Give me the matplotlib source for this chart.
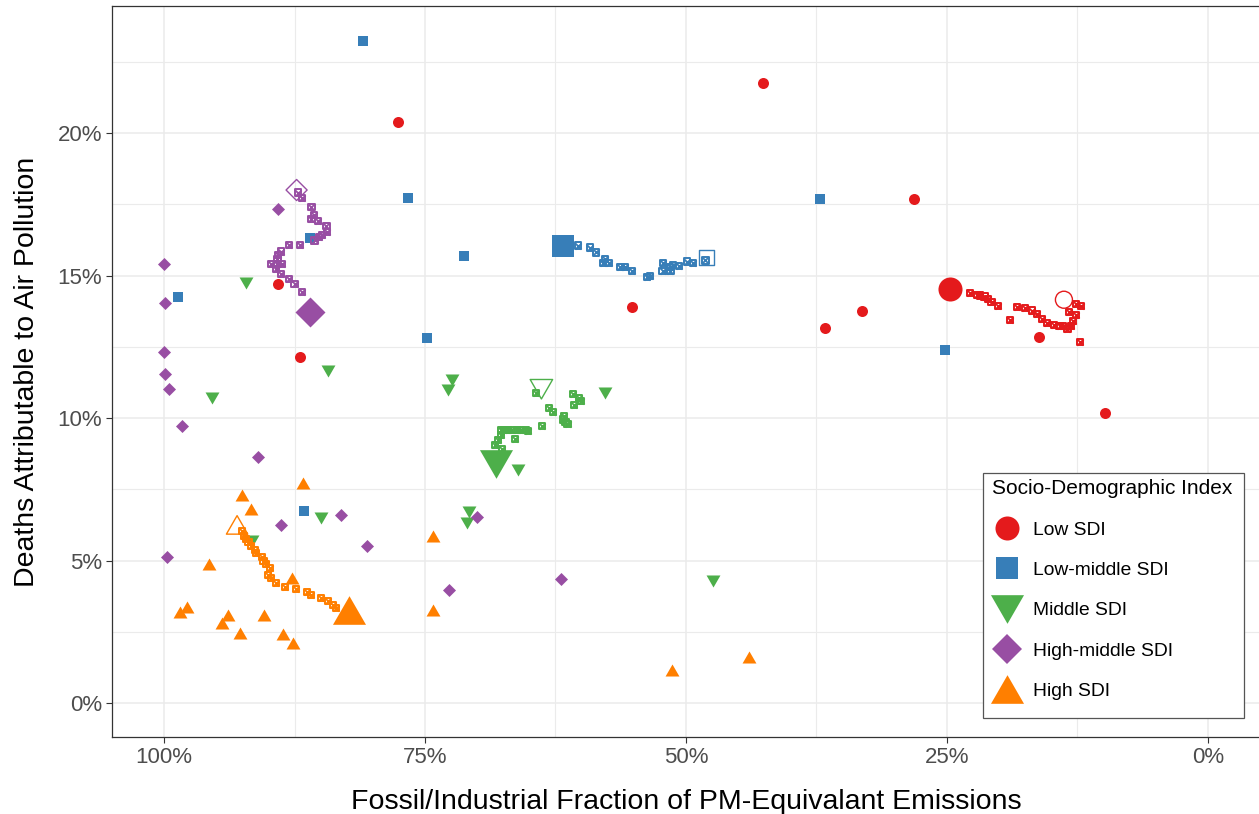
import matplotlib
matplotlib.use("Agg")
import matplotlib.pyplot as plt
from matplotlib.lines import Line2D
from matplotlib.path import Path
from matplotlib.patches import Rectangle
from matplotlib.ticker import FuncFormatter, MultipleLocator

plt.rcParams["font.family"] = ["Liberation Sans", "DejaVu Sans"]

# ---- data (x = fossil/industrial fraction %, y = deaths attributable %) ----
groups = ["Low SDI", "Low-middle SDI", "Middle SDI", "High-middle SDI", "High SDI"]
colors = ["#E41A1C", "#377EB8", "#4DAF4A", "#984EA3", "#FF7F00"]

# individual countries
low_x = [77.6, 42.6, 28.2, 89.1, 87.0, 55.2, 36.7, 33.1, 16.2, 9.9]
low_y = [20.40, 21.77, 17.68, 14.71, 12.13, 13.88, 13.15, 13.74, 12.83, 10.16]
lowmid_x = [80.9, 76.6, 37.2, 86.05, 71.3, 98.7, 74.8, 25.2, 86.6]
lowmid_y = [23.24, 17.73, 17.68, 16.32, 15.69, 14.26, 12.81, 12.39, 6.75]
mid_x = [92.1, 84.3, 95.4, 72.4, 72.8, 57.8, 66.1, 85.0, 70.8, 71.0, 91.6, 47.4]
mid_y = [14.73, 11.66, 10.69, 11.33, 10.98, 10.89, 8.18, 6.49, 6.71, 6.33, 5.70, 4.28]
highmid_x = [100.0, 99.9, 100.0, 99.9, 99.5, 98.3, 91.0, 89.1, 88.8, 83.0, 80.6, 99.7, 70.0, 72.7, 62.0]
highmid_y = [15.39, 14.02, 12.32, 11.54, 11.03, 9.71, 8.62, 17.32, 6.23, 6.60, 5.52, 5.11, 6.53, 3.95, 4.34]
high_x = [86.7, 92.5, 91.7, 95.7, 87.7, 97.8, 98.5, 93.9, 94.4, 90.4, 92.7, 88.6, 87.6, 74.2, 74.2, 51.3, 44.0]
high_y = [7.71, 7.30, 6.80, 4.88, 4.39, 3.37, 3.20, 3.09, 2.80, 3.09, 2.47, 2.42, 2.09, 5.86, 3.27, 1.17, 1.60]

# SDI group aggregate: first year (open), last year (large), years between (small)
start_x = [13.8, 48.04, 63.85, 87.3, 93.0]
start_y = [14.15, 15.63, 11.01, 18.0, 6.25]
end_x = [24.7, 61.76, 68.23, 86.0, 82.3]
end_y = [14.51, 16.04, 8.40, 13.72, 3.25]

low_tx = [12.24, 12.14, 12.62, 13.35, 12.62, 12.90, 13.11, 13.46, 13.88, 14.22, 14.78, 15.44, 15.89,
          16.38, 16.87, 17.50, 18.27, 19.00, 20.08, 20.73, 21.05, 21.40, 21.81, 22.16, 22.79]
low_ty = [12.68, 13.92, 14.01, 13.72, 13.62, 13.41, 13.23, 13.13, 13.22, 13.22, 13.27, 13.32, 13.48,
          13.66, 13.77, 13.85, 13.89, 13.44, 13.94, 14.06, 14.18, 14.26, 14.30, 14.33, 14.39]
lowmid_tx = [48.14, 49.36, 49.88, 50.64, 51.23, 51.57, 51.49, 52.25, 52.21, 53.45, 53.72, 55.19,
             55.84, 56.28, 57.39, 57.93, 57.76, 58.65, 59.16, 60.36]
lowmid_ty = [15.53, 15.44, 15.49, 15.34, 15.38, 15.31, 15.17, 15.17, 15.44, 14.98, 14.94, 15.16,
             15.30, 15.30, 15.44, 15.45, 15.58, 15.81, 15.98, 16.05]
mid_tx = [64.36, 63.09, 62.72, 60.83, 60.22, 60.02, 60.74, 61.66, 61.76, 61.55, 61.35, 63.78, 65.35,
          65.14, 65.90, 66.21, 66.72, 67.06, 67.47, 67.75, 67.75, 67.99, 66.38, 68.30, 67.61]
mid_ty = [10.89, 10.36, 10.21, 10.83, 10.71, 10.59, 10.46, 10.08, 9.95, 9.87, 9.80, 9.71, 9.59,
          9.54, 9.57, 9.57, 9.58, 9.57, 9.57, 9.57, 9.40, 9.24, 9.26, 9.05, 8.91]
highmid_tx = [87.18, 86.80, 85.88, 85.64, 85.88, 85.23, 84.44, 84.41, 84.86, 85.19, 85.58, 87.01,
              88.00, 88.82, 89.09, 89.13, 89.78, 89.16, 88.68, 89.26, 88.82, 88.00, 87.49, 86.77]
highmid_ty = [17.91, 17.73, 17.40, 17.12, 16.97, 16.91, 16.74, 16.52, 16.42, 16.34, 16.23, 16.07,
              16.06, 15.84, 15.71, 15.57, 15.41, 15.41, 15.41, 15.24, 15.06, 14.87, 14.69, 14.43]
high_tx = [92.52, 92.31, 92.17, 91.90, 91.69, 91.28, 91.15, 90.60, 90.46, 90.26, 89.85, 90.05,
           89.78, 89.30, 88.41, 87.35, 86.32, 85.95, 84.99, 84.30, 83.82, 83.49]
high_ty = [6.04, 5.87, 5.75, 5.65, 5.51, 5.37, 5.25, 5.13, 4.99, 4.87, 4.74, 4.50,
           4.38, 4.20, 4.07, 3.99, 3.89, 3.79, 3.69, 3.58, 3.45, 3.33]

country_x = [low_x, lowmid_x, mid_x, highmid_x, high_x]
country_y = [low_y, lowmid_y, mid_y, highmid_y, high_y]
traj_x = [low_tx, lowmid_tx, mid_tx, highmid_tx, high_tx]
traj_y = [low_ty, lowmid_ty, mid_ty, highmid_ty, high_ty]

# equilateral triangles centred on their bounding box
tri_up = Path([(0, 0.433), (-0.5, -0.433), (0.5, -0.433), (0, 0.433)], closed=True)
tri_down = Path([(0, -0.433), (-0.5, 0.433), (0.5, 0.433), (0, -0.433)], closed=True)
markers = ["o", "s", tri_down, "D", tri_up]

# marker sizes (scatter s) for country / open start / large end / legend markersize
size_country = [63, 50, 100, 44, 100]
size_start = [150, 117, 262, 115, 237]
size_end = [300, 250, 566, 233, 566]
size_legend = [17.3, 15.8, 23.8, 15.3, 23.8]

fig = plt.figure(figsize=(12.59, 8.14), dpi=100)
ax = fig.add_axes([111.8 / 1259, 76.8 / 814, 1148.4 / 1259, 731 / 814])

for i in range(5):
    ax.scatter(country_x[i], country_y[i], s=size_country[i], marker=markers[i],
               color=colors[i], linewidths=0, zorder=3)
for i in range(5):
    ax.scatter(start_x[i], start_y[i], s=size_start[i], marker=markers[i],
               facecolors="none", edgecolors=colors[i], linewidths=1.0, zorder=4)
    ax.scatter(end_x[i], end_y[i], s=size_end[i], marker=markers[i],
               color=colors[i], linewidths=0, zorder=4)
for i in range(5):
    ax.scatter(traj_x[i], traj_y[i], s=20, marker="s", facecolors="none",
               edgecolors=colors[i], linewidths=1.4, zorder=5)
    ax.scatter(traj_x[i], traj_y[i], s=20, marker="x", color=colors[i], linewidths=1.3, zorder=5)

ax.set_xlim(105, -5)
ax.set_ylim(-1.2, 24.45)
ax.xaxis.set_major_locator(MultipleLocator(25))
ax.xaxis.set_minor_locator(MultipleLocator(12.5))
ax.yaxis.set_major_locator(MultipleLocator(5))
ax.yaxis.set_minor_locator(MultipleLocator(2.5))
pct = FuncFormatter(lambda v, p: f"{v:.0f}%")
ax.xaxis.set_major_formatter(pct)
ax.yaxis.set_major_formatter(pct)

ax.grid(which="major", color="#EBEBEB", linewidth=1.1, zorder=0)
ax.grid(which="minor", color="#EBEBEB", linewidth=0.8, zorder=0)
ax.set_axisbelow(True)
ax.tick_params(which="major", length=4, width=0.8, color="#333333",
               labelsize=16, labelcolor="#4D4D4D")
ax.tick_params(axis="x", which="major", pad=3)
ax.tick_params(axis="y", which="major", pad=2.8)
ax.tick_params(which="minor", length=0)
for sp in ax.spines.values():
    sp.set_color("#333333")
    sp.set_linewidth(0.9)

ax.set_xlabel("Fossil/Industrial Fraction of PM-Equivalant Emissions", fontsize=20.5, labelpad=15)
ax.set_ylabel("Deaths Attributable to Air Pollution", fontsize=20.5, labelpad=13)

# legend: frame drawn separately so the paddings can follow the reference
frame = Rectangle((983 / 1259, 96 / 814), 261 / 1259, 245 / 814, transform=fig.transFigure,
                  facecolor="white", edgecolor="#555555", linewidth=0.9, zorder=6)
ax.add_patch(frame)
frame.set_clip_on(False)

handles = [Line2D([], [], marker=markers[i], color=colors[i], linestyle="none",
                  markersize=size_legend[i], markeredgewidth=0) for i in range(5)]
leg = ax.legend(handles, groups, title="Socio-Demographic Index", loc="upper left",
                bbox_to_anchor=(991.5 / 1259, (814 - 479.5) / 814), bbox_transform=fig.transFigure,
                fontsize=13.9, title_fontsize=15, alignment="left", frameon=False,
                labelspacing=1.18, handlelength=1.6, handletextpad=0.55,
                borderpad=0, borderaxespad=0)
leg.set_zorder(7)

fig.savefig("out.png", dpi=100)
